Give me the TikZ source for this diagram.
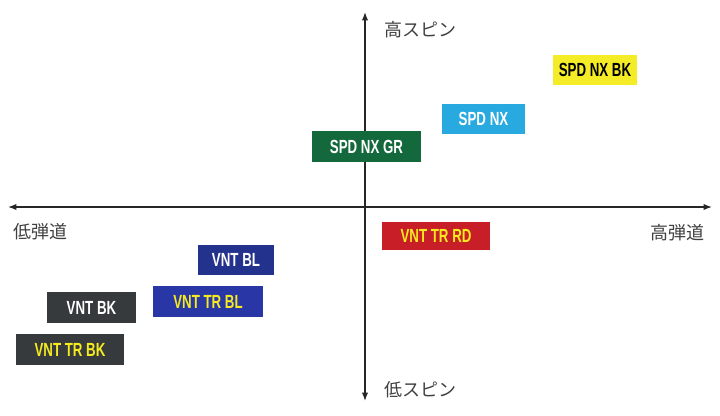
\documentclass[tikz,border=0pt]{standalone}
\usepackage{fontspec}
\setmainfont{Liberation Sans}
\newfontfamily\cjk{Noto Sans CJK JP}
\usetikzlibrary{arrows.meta}
\definecolor{spdYel}{RGB}{245,236,40}
\definecolor{spdBlu}{RGB}{40,170,225}
\definecolor{spdGrn}{RGB}{20,105,60}
\definecolor{vntRed}{RGB}{200,30,40}
\definecolor{vntNavy}{RGB}{35,50,140}
\definecolor{vntBlu}{RGB}{40,55,165}
\definecolor{vntGry}{RGB}{55,58,60}
\definecolor{lblYel}{RGB}{245,235,30}
\tikzstyle{ballNode} = [rectangle, inner sep=0pt, text centered, font=\bfseries\fontsize{19}{19}\selectfont]
\tikzstyle{axisLbl} = [font=\cjk\fontsize{18}{18}\selectfont, text=black!75]
\tikzstyle{arrowAx} = [line width=1.2pt, Latex-Latex, draw=black!85]
\begin{document}
\begin{tikzpicture}[x=1pt, y=-1pt]
        \useasboundingbox (0,0) rectangle (720,415);
        % axes
        \coordinate (left) at (8,207);
        \coordinate (right) at (712,207);
        \coordinate (top) at (365,12);
        \coordinate (bottom) at (365,401);
        \draw [arrowAx] (left) -- (right);
        \draw [arrowAx] (bottom) -- (top);
        \node (hiSpin) [axisLbl, anchor=west] at (381,30) {高スピン};
        \node (loSpin) [axisLbl, anchor=west] at (381,390) {低スピン};
        \node (loTraj) [axisLbl, anchor=west] at (10,232) {低弾道};
        \node (hiTraj) [axisLbl, anchor=east] at (708,233) {高弾道};
        % balls
        \node (spdBK) [ballNode, fill=spdYel, text=black, minimum width=84pt, minimum height=30pt] at (595,70) {\scalebox{0.7}[1]{SPD NX BK}};
        \node (spdBL) [ballNode, fill=spdBlu, text=white, minimum width=83pt, minimum height=30pt] at (483.5,119) {\scalebox{0.7}[1]{SPD NX}};
        \node (spdGR) [ballNode, fill=spdGrn, text=white, minimum width=109pt, minimum height=31pt] at (366.5,146.5) {\scalebox{0.7}[1]{SPD NX GR}};
        \node (vntTRRD) [ballNode, fill=vntRed, text=lblYel, minimum width=108pt, minimum height=28pt] at (436,236) {\scalebox{0.7}[1]{VNT TR RD}};
        \node (vntBL) [ballNode, fill=vntNavy, text=white, minimum width=76pt, minimum height=30pt] at (236,260) {\scalebox{0.7}[1]{VNT BL}};
        \node (vntTRBL) [ballNode, fill=vntBlu, text=lblYel, minimum width=110pt, minimum height=31pt] at (208,301.5) {\scalebox{0.7}[1]{VNT TR BL}};
        \node (vntBK) [ballNode, fill=vntGry, text=white, minimum width=89pt, minimum height=31pt] at (91.5,307.5) {\scalebox{0.7}[1]{VNT BK}};
        \node (vntTRBK) [ballNode, fill=vntGry, text=lblYel, minimum width=108pt, minimum height=31pt] at (70,349.5) {\scalebox{0.7}[1]{VNT TR BK}};
    \end{tikzpicture}
\end{document}
